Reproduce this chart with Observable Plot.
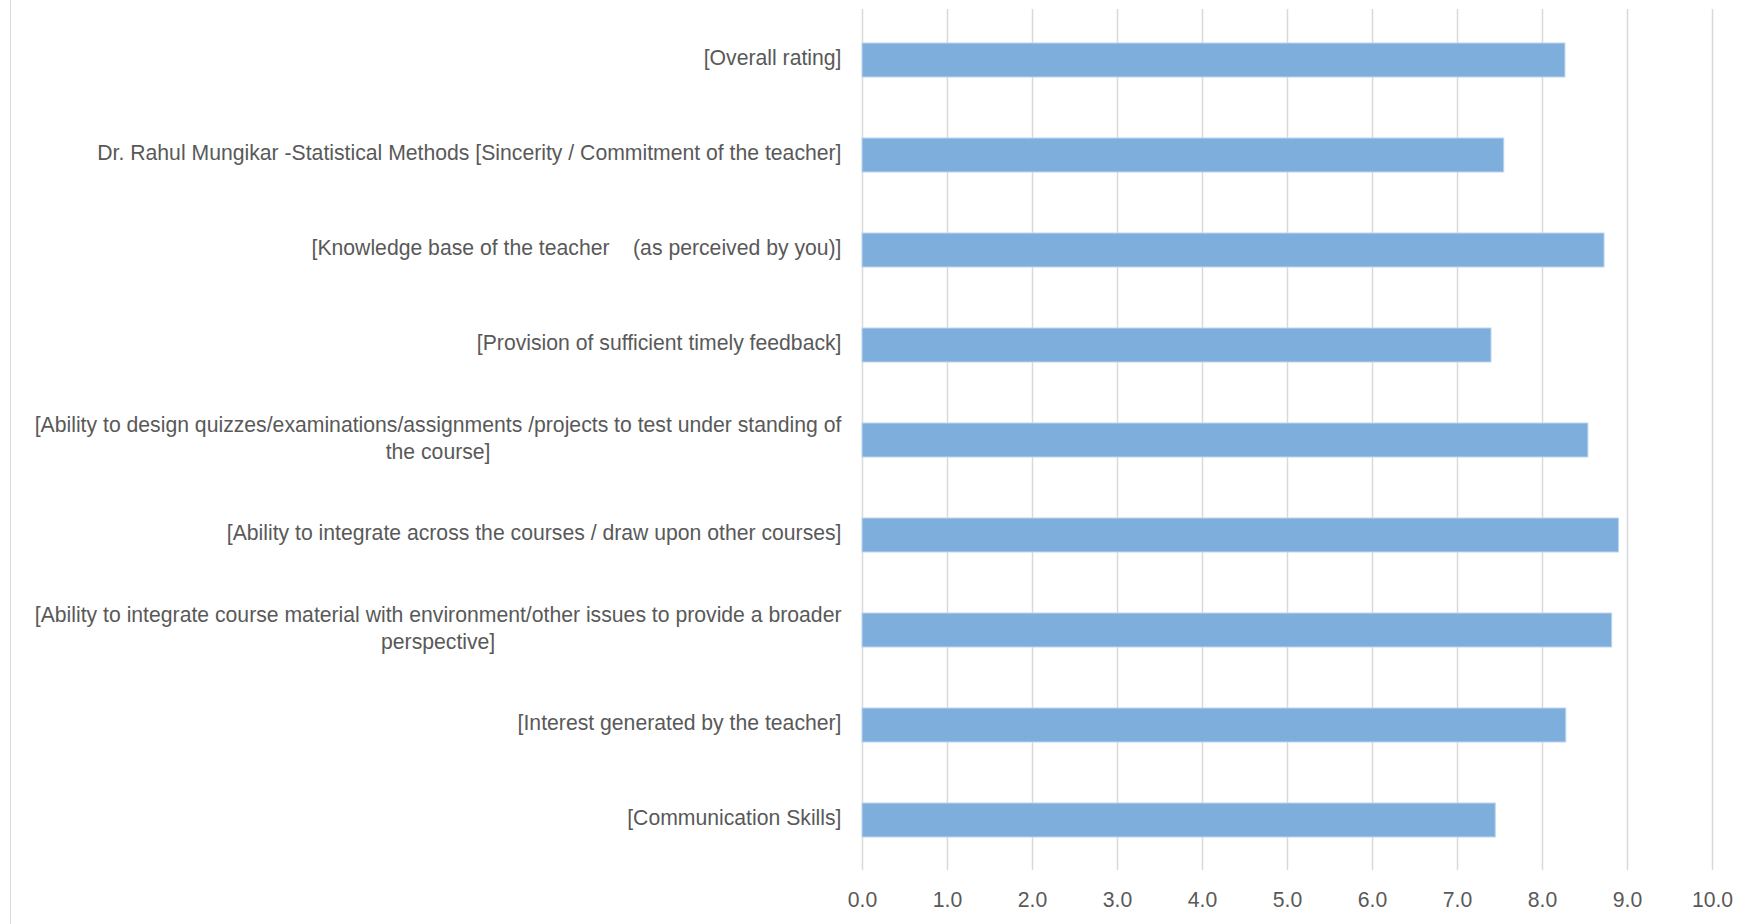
<!DOCTYPE html>
<html>
<head>
<meta charset="utf-8">
<script src="https://cdn.jsdelivr.net/npm/d3@7"></script>
<script src="https://cdn.jsdelivr.net/npm/@observablehq/plot@0.6"></script>
<style>
  html, body { margin: 0; padding: 0; background: #ffffff; }
  #wrap { position: relative; width: 1758px; height: 924px; overflow: hidden; }
  #edge { position: absolute; left: 10px; top: 0; width: 0; height: 924px; border-left: 1.5px solid #d9d9d9; }
  #wrap svg { position: absolute; left: 0; top: 0; }
  #wrap svg text { white-space: pre; }
</style>
</head>
<body>
<div id="wrap"><div id="edge"></div></div>
<script>
// Categories, top to bottom as shown
const categories = [
  "[Overall rating]",
  "Dr. Rahul Mungikar -Statistical Methods [Sincerity / Commitment of the teacher]",
  "[Knowledge base of the teacher    (as perceived by you)]",
  "[Provision of sufficient timely feedback]",
  "[Ability to design quizzes/examinations/assignments /projects to test under standing of\nthe course]",
  "[Ability to integrate across the courses / draw upon other courses]",
  "[Ability to integrate course material with environment/other issues to provide a broader\nperspective]",
  "[Interest generated by the teacher]",
  "[Communication Skills]"
];
const values = [8.27, 7.55, 8.73, 7.40, 8.54, 8.90, 8.82, 8.28, 7.45];
const xTicks = [0, 1, 2, 3, 4, 5, 6, 7, 8, 9, 10];

const data = categories.map((c, i) => ({category: c, value: values[i]}));

const chart = Plot.plot({
  width: 1758,
  height: 924,
  marginLeft: 862,
  marginRight: 46,
  marginTop: 9,
  marginBottom: 54,
  style: {
    fontFamily: "'Liberation Sans', Arial, sans-serif",
    fontSize: "21.2px",
    color: "#595959",
    background: "transparent",
    overflow: "visible"
  },
  x: {domain: [0, 10]},
  y: {domain: categories, paddingInner: 0.645, paddingOuter: 0.3225},
  marks: [
    Plot.gridX(xTicks, {stroke: "#d9d9d9", strokeOpacity: 1, strokeWidth: 1.5}),
    Plot.barX(data, {x: "value", y: "category", fill: "#7eaedc", stroke: "#bdd5ee", strokeWidth: 1}),
    Plot.axisX({ticks: xTicks, tickFormat: d3.format(".1f"), tickSize: 0, tickPadding: 21, label: null, fill: "#595959"}),
    Plot.axisY({tickSize: 0, tickPadding: 21, dy: -4, label: null, lineHeight: 1.27, fill: "#595959"})
  ]
});

document.getElementById("wrap").appendChild(chart);

// Excel centres the lines of a wrapped label within its right-aligned block
chart.querySelectorAll('g[aria-label="y-axis tick label"] text').forEach(t => {
  const spans = t.querySelectorAll("tspan");
  if (spans.length > 1) {
    const w = t.getBBox().width;
    t.setAttribute("text-anchor", "middle");
    const tr = t.getAttribute("transform") || "";
    t.setAttribute("transform", tr + ` translate(${-w / 2},0)`);
  }
});
</script>
</body>
</html>
